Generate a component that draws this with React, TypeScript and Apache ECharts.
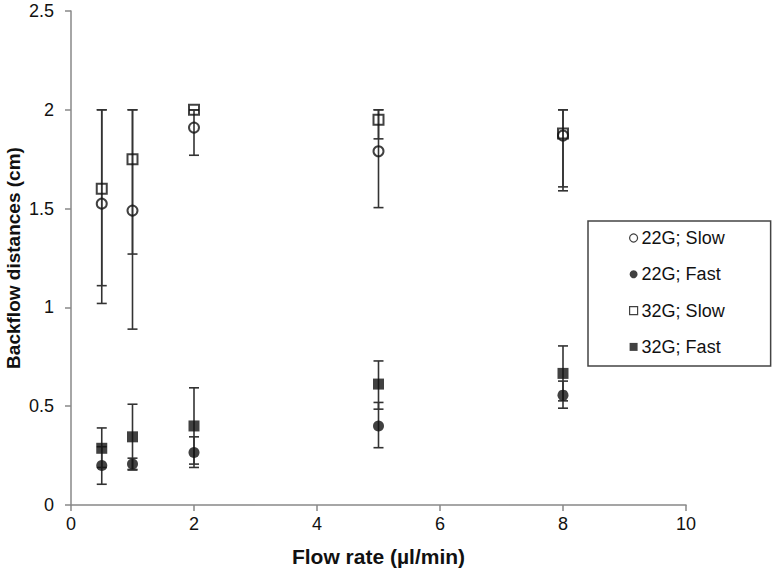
import React, { useEffect, useRef } from "react";
import * as echarts from "echarts";

const flowRates = [0.5, 1, 2, 5, 8];
const seriesNames = ["22G; Slow", "22G; Fast", "32G; Slow", "32G; Fast"];

const g22Slow = [1.525, 1.49, 1.91, 1.79, 1.87];
const g22SlowLow = [1.02, 0.89, 1.77, 1.505, 1.59];
const g22SlowHigh = [2.0, 2.0, 2.0, 2.0, 2.0];

const g22Fast = [0.2, 0.207, 0.266, 0.4, 0.556];
const g22FastLow = [0.105, 0.177, 0.19, 0.29, 0.49];
const g22FastHigh = [0.295, 0.237, 0.345, 0.519, 0.627];

const g32Slow = [1.6, 1.75, 2.0, 1.95, 1.88];
const g32SlowLow = [1.11, 1.27, 2.0, 1.853, 1.61];
const g32SlowHigh = [2.0, 2.0, 2.0, 2.0, 2.0];

const g32Fast = [0.287, 0.345, 0.4, 0.612, 0.666];
const g32FastLow = [0.19, 0.18, 0.207, 0.485, 0.527];
const g32FastHigh = [0.39, 0.51, 0.593, 0.729, 0.805];

const yTicks = { min: 0, max: 2.5, interval: 0.5 };
const xTicks = { min: 0, max: 10, interval: 2 };

const FONT = "'Liberation Sans', Arial, sans-serif";

const values = [g22Slow, g22Fast, g32Slow, g32Fast];
const lows = [g22SlowLow, g22FastLow, g32SlowLow, g32FastLow];
const highs = [g22SlowHigh, g22FastHigh, g32SlowHigh, g32FastHigh];
const symbols = ["circle", "circle", "rect", "rect"];
const hollow = [true, false, true, false];

export default function App() {
  const ref = useRef<HTMLDivElement>(null);
  useEffect(() => {
    if (!ref.current) return;
    const chart = echarts.init(ref.current, undefined, { renderer: "svg" });

    const errorSeries = seriesNames.map((name, si) => ({
      type: "custom",
      name: "err " + name,
      z: 1,
      silent: true,
      encode: { x: 0, y: [1, 2] },
      data: flowRates.map((x, i) => [x, lows[si][i], highs[si][i]]),
      renderItem: (params: any, api: any) => {
        const x = api.value(0);
        const lo = api.value(1);
        const hi = api.value(2);
        const top = api.coord([x, hi]);
        const bot = api.coord([x, lo]);
        const hw = 5;
        const style = { stroke: "#333", lineWidth: 1.6 };
        return {
          type: "group",
          children: [
            { type: "line", shape: { x1: top[0], y1: top[1], x2: bot[0], y2: bot[1] }, style },
            { type: "line", shape: { x1: top[0] - hw, y1: top[1], x2: top[0] + hw, y2: top[1] }, style },
            { type: "line", shape: { x1: bot[0] - hw, y1: bot[1], x2: bot[0] + hw, y2: bot[1] }, style },
          ],
        };
      },
    }));

    const pointSeries = seriesNames.map((name, si) => ({
      type: "scatter",
      name,
      z: 3,
      symbol: symbols[si],
      symbolSize: hollow[si] ? 10 : 11,
      itemStyle: hollow[si]
        ? { color: "rgba(255,255,255,0)", borderColor: "#111", borderWidth: 2 }
        : { color: "#111", borderColor: "#111", borderWidth: 0 },
      data: flowRates.map((x, i) => [x, values[si][i]]),
    }));

    chart.setOption({
      animation: false,
      backgroundColor: "#fff",
      grid: { left: 71, right: 90, top: 11, bottom: 66, outerBoundsMode: "none", containLabel: false },
      xAxis: {
        type: "value",
        min: xTicks.min,
        max: xTicks.max,
        interval: xTicks.interval,
        name: "Flow rate (µl/min)",
        nameLocation: "middle",
        nameGap: 41,
        nameMoveOverlap: false,
        nameTextStyle: { fontFamily: FONT, fontSize: 21, fontWeight: "bold", color: "#111" },
        axisLine: { show: true, lineStyle: { color: "#888", width: 1.5 } },
        axisTick: { show: true, length: 6, lineStyle: { color: "#888", width: 1.5 } },
        axisLabel: { fontFamily: FONT, fontSize: 18, color: "#111", margin: 10 },
        splitLine: { show: false },
      },
      yAxis: {
        type: "value",
        min: yTicks.min,
        max: yTicks.max,
        interval: yTicks.interval,
        name: "Backflow distances (cm)",
        nameLocation: "middle",
        nameGap: 47,
        nameMoveOverlap: false,
        nameTextStyle: { fontFamily: FONT, fontSize: 19, fontWeight: "bold", color: "#111", lineHeight: 21 },
        axisLine: { show: true, lineStyle: { color: "#888", width: 1.5 } },
        axisTick: { show: true, length: 6, lineStyle: { color: "#888", width: 1.5 } },
        axisLabel: { fontFamily: FONT, fontSize: 18, color: "#111", margin: 17 },
        splitLine: { show: false },
      },
      legend: {
        orient: "vertical",
        left: 588,
        top: 221,
        data: seriesNames.map((name, si) => ({
          name,
          icon: symbols[si],
          itemStyle: hollow[si]
            ? { color: "#fff", borderColor: "#111", borderWidth: 1.2 }
            : { color: "#111", borderWidth: 0 },
        })),
        itemWidth: 8,
        itemHeight: 8,
        itemGap: 16.3,
        padding: [7, 46, 9, 41],
        borderColor: "#444",
        borderWidth: 1.5,
        selectedMode: false,
        textStyle: { fontFamily: FONT, fontSize: 18, color: "#111", lineHeight: 20, padding: [0, 0, 0, -1] },
      },
      series: [...errorSeries, ...pointSeries],
    } as any);

    return () => chart.dispose();
  }, []);

  return (
    <div
      ref={ref}
      style={{ position: "absolute", left: 0, top: 0, width: 776, height: 571, background: "#fff" }}
    />
  );
}
